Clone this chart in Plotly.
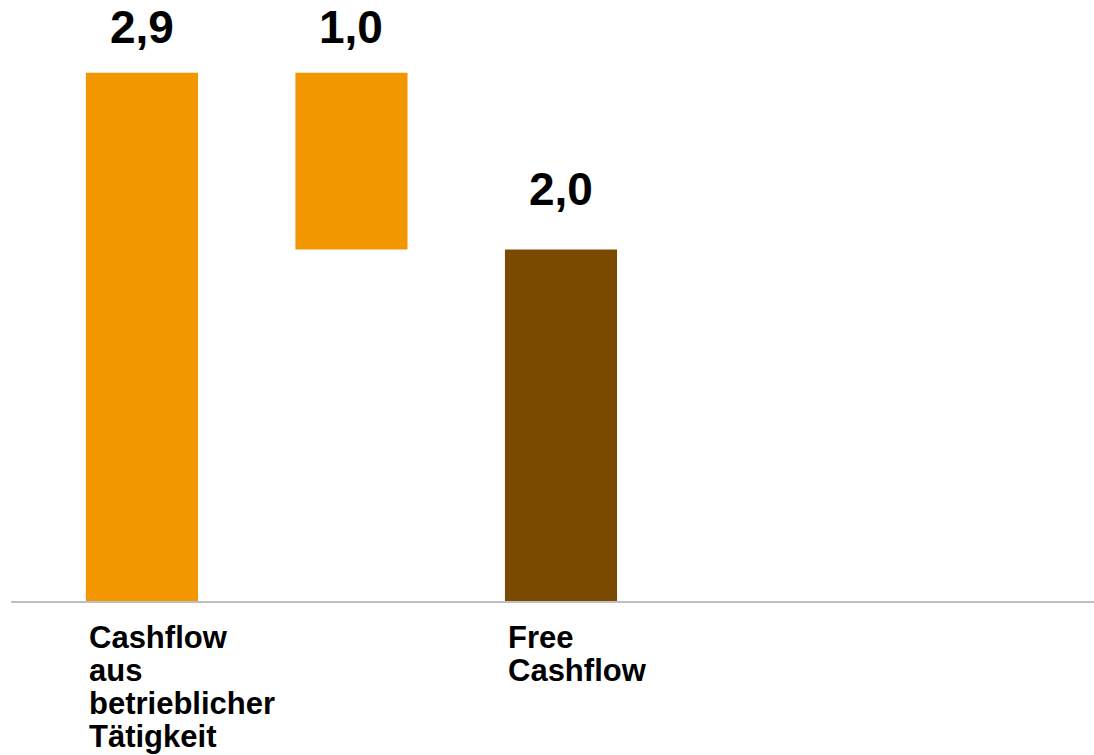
import plotly.graph_objects as go

# ---- data ----
categories = ["Cashflow aus betrieblicher Tätigkeit", "Investitionen", "Free Cashflow"]
measures = ["absolute", "relative", "total"]
values = [2.9, -0.97, 0]
value_labels = ["2,9", "1,0", "2,0"]
category_label_lines = [["Cashflow", "aus", "betrieblicher", "Tätigkeit"], [], ["Free", "Cashflow"]]

ORANGE = "#F39700"
BROWN = "#7A4A00"
FONT = "Arial, Liberation Sans, sans-serif"

# waterfall geometry from the data
bases, heights, tops, colors = [], [], [], []
running = 0
for m, v in zip(measures, values):
    if m == "absolute":
        bases.append(0); heights.append(v); running = v; colors.append(ORANGE)
    elif m == "relative":
        lo, hi = min(running, running + v), max(running, running + v)
        bases.append(lo); heights.append(hi - lo); running += v; colors.append(ORANGE)
    else:
        bases.append(0); heights.append(running); colors.append(BROWN)
    tops.append(bases[-1] + heights[-1])

fig = go.Figure()
fig.add_trace(go.Bar(
    x=categories,
    y=heights,
    base=bases,
    marker=dict(color=colors, line=dict(width=0)),
    width=0.535,
    hoverinfo="skip",
))

label_shift = [46, 46, 61]
annotations = []
for i, (c, t, lab) in enumerate(zip(categories, tops, value_labels)):
    annotations.append(dict(
        x=c, y=t, xref="x", yref="y", text=f"<b>{lab}</b>", showarrow=False,
        yanchor="middle", xanchor="center", yshift=label_shift[i],
        font=dict(family=FONT, size=46, color="black")))

for c, lines in zip(categories, category_label_lines):
    for j, line in enumerate(lines):
        annotations.append(dict(
            x=c, y=0, xref="x", yref="paper", text=f"<b>{line}</b>", showarrow=False,
            xanchor="left", yanchor="middle", xshift=-55, yshift=-36 - 33 * j,
            align="left", font=dict(family=FONT, size=31, color="black")))

fig.update_layout(
    width=1094, height=755,
    margin=dict(l=11, r=0, t=0, b=154),
    paper_bgcolor="white", plot_bgcolor="white",
    showlegend=False,
    annotations=annotations,
    xaxis=dict(type="category", range=[-0.625, 4.544], showticklabels=False,
               showgrid=False, zeroline=False, showline=True,
               linecolor="#BFBFBF", linewidth=2, ticks=""),
    yaxis=dict(range=[0, 3.30], visible=False, showgrid=False, zeroline=False),
)

fig.write_html("out.html")
